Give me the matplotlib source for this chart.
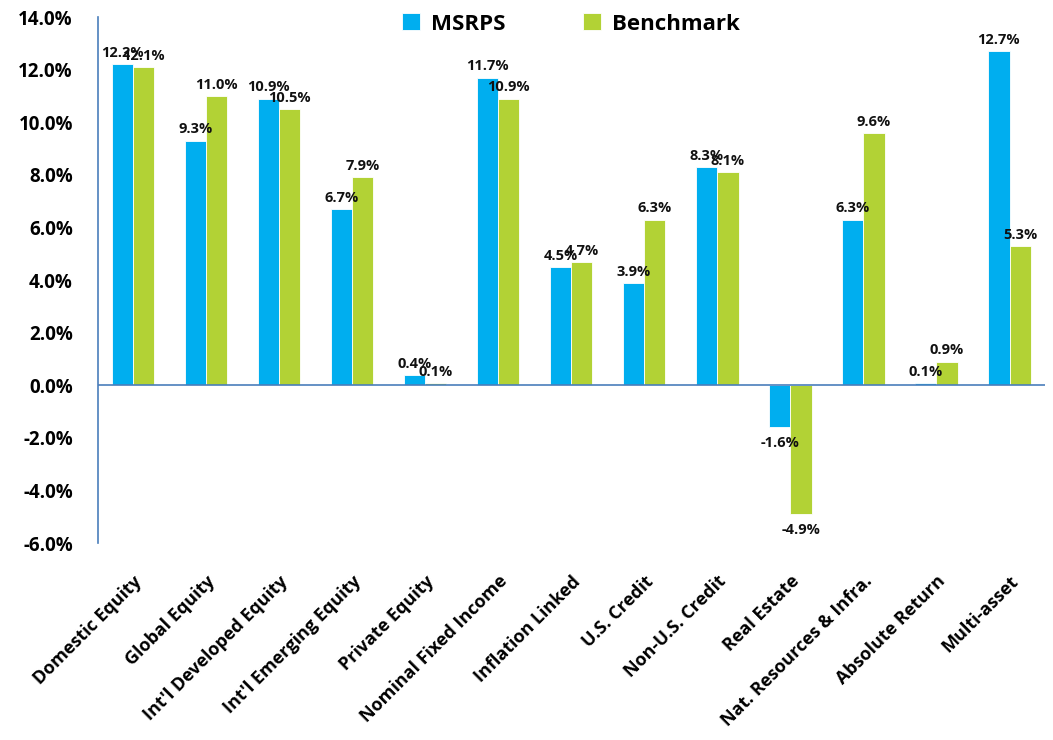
import numpy as np
import matplotlib.pyplot as plt
from matplotlib.ticker import FuncFormatter

categories = ["Domestic Equity", "Global Equity", "Int'l Developed Equity",
              "Int'l Emerging Equity", "Private Equity", "Nominal Fixed Income",
              "Inflation Linked", "U.S. Credit", "Non-U.S. Credit", "Real Estate",
              "Nat. Resources & Infra.", "Absolute Return", "Multi-asset"]
msrps = [12.2, 9.3, 10.9, 6.7, 0.4, 11.7, 4.5, 3.9, 8.3, -1.6, 6.3, 0.1, 12.7]
benchmark = [12.1, 11.0, 10.5, 7.9, 0.1, 10.9, 4.7, 6.3, 8.1, -4.9, 9.6, 0.9, 5.3]

BLUE = "#00AEEF"
GREEN = "#B2D235"
AXIS = "#4A7EBB"

plt.rcParams["font.family"] = ["Open Sans", "DejaVu Sans"]
plt.rcParams["font.weight"] = "bold"

fig = plt.figure(figsize=(10.53, 7.40), dpi=100)
ax = fig.add_axes([0.093, 0.266, 0.899, 0.711])

x = np.arange(len(categories))
w = 0.29
b1 = ax.bar(x - w / 2, msrps, w, color=BLUE, edgecolor="white", linewidth=0.6, label="MSRPS")
b2 = ax.bar(x + w / 2, benchmark, w, color=GREEN, edgecolor="white", linewidth=0.6, label="Benchmark")

for bars, vals in ((b1, msrps), (b2, benchmark)):
    for bar, v in zip(bars, vals):
        cx = bar.get_x() + bar.get_width() / 2
        off = 3 if v >= 0 else -6
        ax.annotate(f"{v:.1f}%", (cx, v), xytext=(0, off), textcoords="offset points",
                    ha="center", va="bottom" if v >= 0 else "top",
                    fontsize=10.5, fontweight="bold", color="#111111")

ax.set_xlim(-0.48, 12.48)
ax.set_ylim(-6, 14)
ax.set_yticks(np.arange(-6, 15, 2))
ax.yaxis.set_major_formatter(FuncFormatter(lambda v, p: f"{v:.1f}%"))
ax.tick_params(axis="y", length=0, pad=18, labelsize=13.5)
for lbl in ax.get_yticklabels():
    lbl.set_fontweight("bold")

ax.set_xticks(x)
ax.set_xticklabels(categories, rotation=45, ha="right", rotation_mode="anchor",
                   fontsize=13, fontweight="bold")
ax.tick_params(axis="x", length=0, pad=21)

for s in ("top", "right", "bottom"):
    ax.spines[s].set_visible(False)
ax.spines["left"].set_color(AXIS)
ax.spines["left"].set_linewidth(1.2)
ax.axhline(0, color=AXIS, linewidth=1.2, zorder=3)

leg = ax.legend(loc="upper center", bbox_to_anchor=(0.5, 1.045), ncol=2, frameon=False,
                handlelength=0.8, handleheight=0.8, columnspacing=3.5, handletextpad=0.5,
                prop={"size": 16, "weight": "bold"})

fig.savefig("out.png", dpi=100)
